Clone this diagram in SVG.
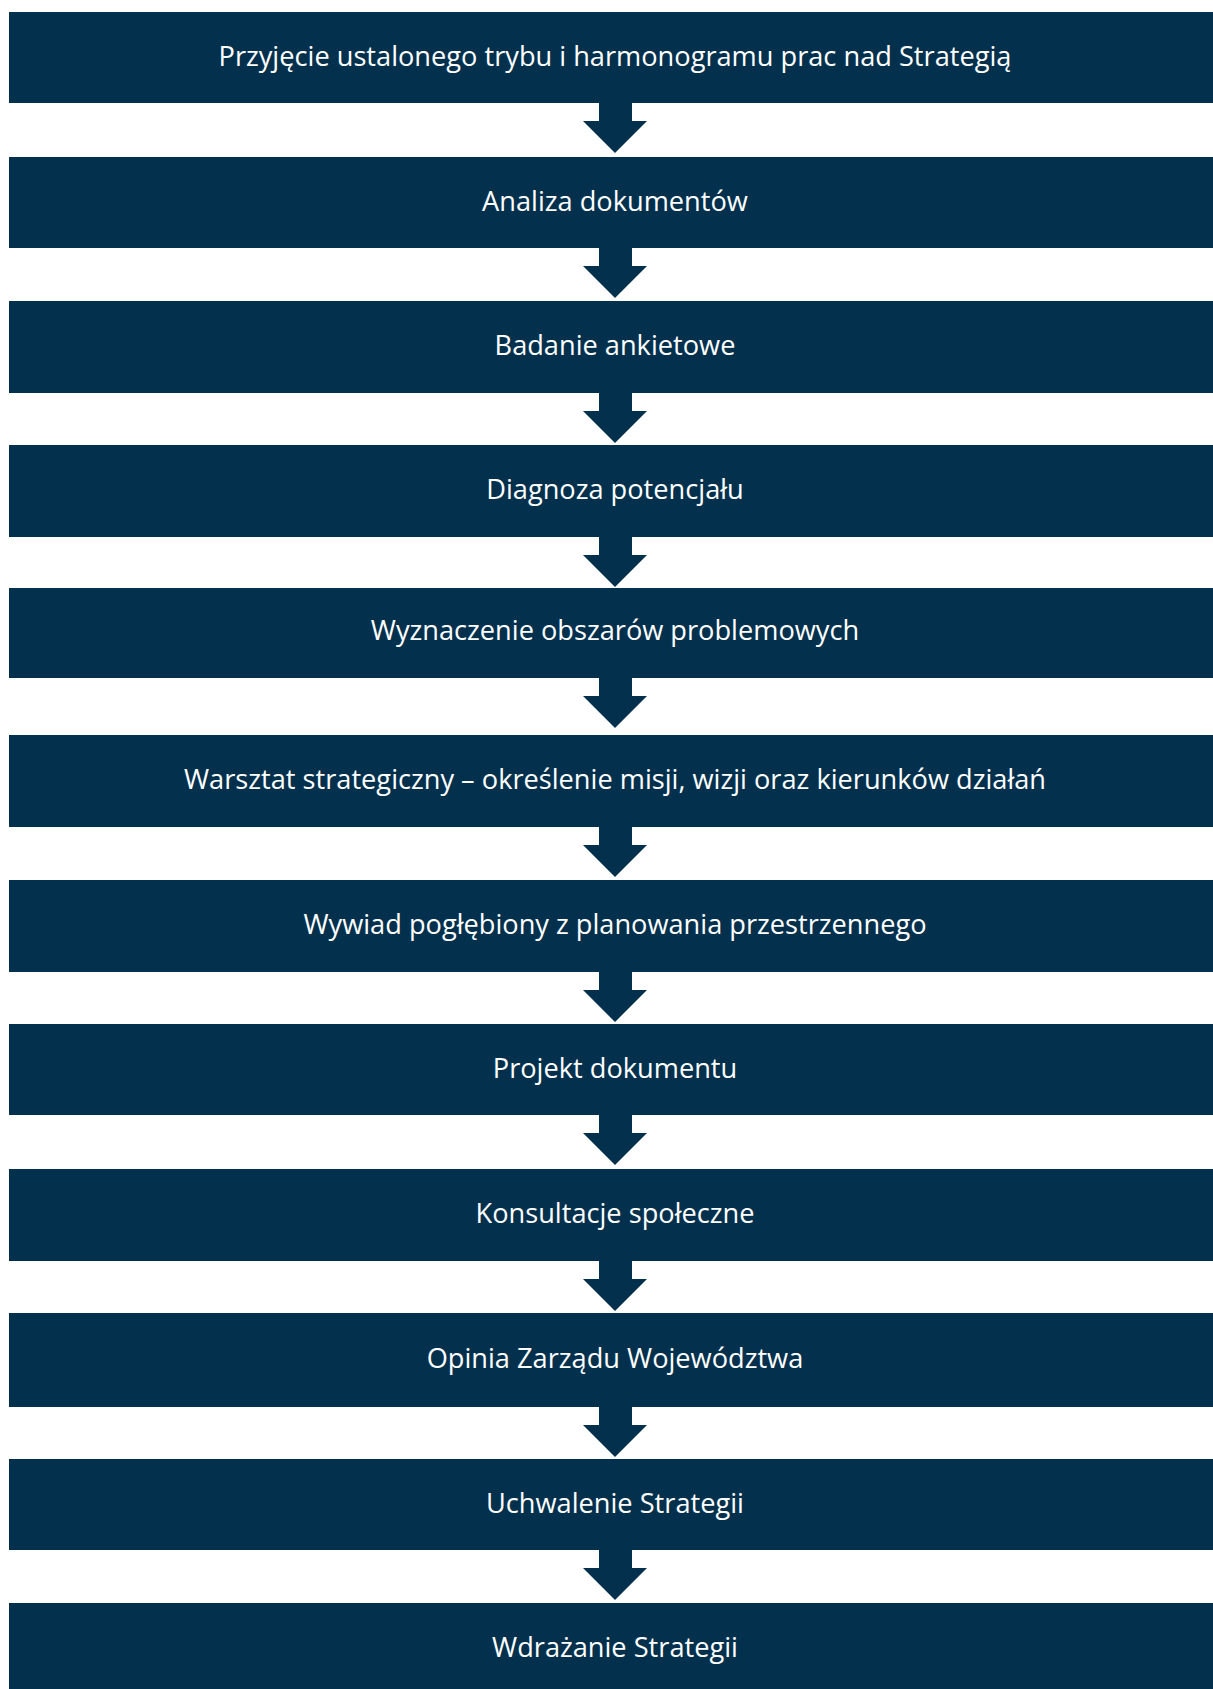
<svg xmlns="http://www.w3.org/2000/svg" width="1213" height="1689" viewBox="0 0 1213 1689">
<style>
.box{fill:#03314D}
.lbl{fill:#FFFFFF;font-family:"Open Sans","Noto Sans","DejaVu Sans",sans-serif;font-size:27.2px;font-weight:500;text-anchor:middle}
.arr{fill:#03314D}
</style>
<defs>
<path id="arrow" d="M-16,0 H17 V19 H32 L0,51 L-32,19 H-16 Z"/>
</defs>
<rect width="1213" height="1689" fill="#FFFFFF"/>
<g id="connectors">
<use href="#arrow" class="arr" x="615" y="102"/>
<use href="#arrow" class="arr" x="615" y="247"/>
<use href="#arrow" class="arr" x="615" y="392"/>
<use href="#arrow" class="arr" x="615" y="536"/>
<use href="#arrow" class="arr" x="615" y="677"/>
<use href="#arrow" class="arr" x="615" y="826"/>
<use href="#arrow" class="arr" x="615" y="971"/>
<use href="#arrow" class="arr" x="615" y="1114"/>
<use href="#arrow" class="arr" x="615" y="1260"/>
<use href="#arrow" class="arr" x="615" y="1406"/>
<use href="#arrow" class="arr" x="615" y="1549"/>
</g>
<g id="n1"><rect class="box" x="9" y="12" width="1204" height="91"/><text class="lbl" x="615" y="66">Przyjęcie ustalonego trybu i harmonogramu prac nad Strategią</text></g>
<g id="n2"><rect class="box" x="9" y="157" width="1204" height="91"/><text class="lbl" x="615" y="211">Analiza dokumentów</text></g>
<g id="n3"><rect class="box" x="9" y="301" width="1204" height="92"/><text class="lbl" x="615" y="355">Badanie ankietowe</text></g>
<g id="n4"><rect class="box" x="9" y="445" width="1204" height="92"/><text class="lbl" x="615" y="499">Diagnoza potencjału</text></g>
<g id="n5"><rect class="box" x="9" y="588" width="1204" height="90"/><text class="lbl" x="615" y="640">Wyznaczenie obszarów problemowych</text></g>
<g id="n6"><rect class="box" x="9" y="735" width="1204" height="92"/><text class="lbl" x="615" y="789">Warsztat strategiczny – określenie misji, wizji oraz kierunków działań</text></g>
<g id="n7"><rect class="box" x="9" y="880" width="1204" height="92"/><text class="lbl" x="615" y="934">Wywiad pogłębiony z planowania przestrzennego</text></g>
<g id="n8"><rect class="box" x="9" y="1024" width="1204" height="91"/><text class="lbl" x="615" y="1078">Projekt dokumentu</text></g>
<g id="n9"><rect class="box" x="9" y="1169" width="1204" height="92"/><text class="lbl" x="615" y="1223">Konsultacje społeczne</text></g>
<g id="n10"><rect class="box" x="9" y="1313" width="1204" height="94"/><text class="lbl" x="615" y="1368">Opinia Zarządu Województwa</text></g>
<g id="n11"><rect class="box" x="9" y="1459" width="1204" height="91"/><text class="lbl" x="615" y="1513">Uchwalenie Strategii</text></g>
<g id="n12"><rect class="box" x="9" y="1603" width="1204" height="86"/><text class="lbl" x="615" y="1657">Wdrażanie Strategii</text></g>
</svg>
